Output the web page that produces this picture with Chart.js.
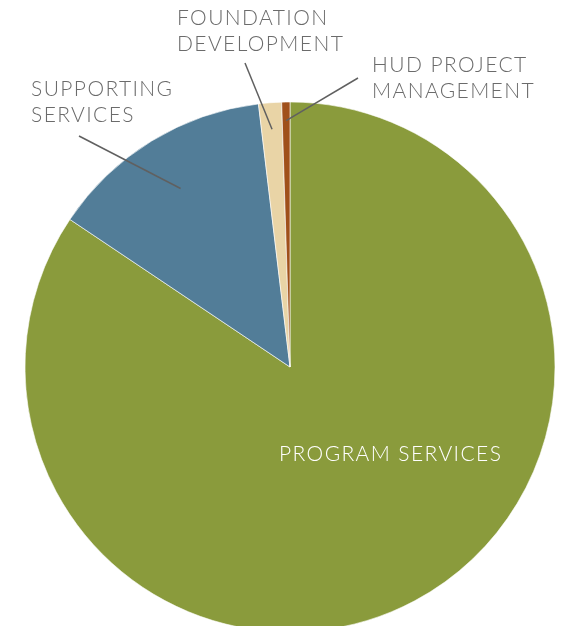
<!DOCTYPE html>
<html>
<head>
<meta charset="utf-8">
<script src="https://cdn.jsdelivr.net/npm/chart.js@4"></script>
<style>
  html, body { margin: 0; padding: 0; background: #fff; overflow: hidden; }
  #wrap { width: 562px; height: 626px; }
</style>
</head>
<body>
<div id="wrap"><canvas id="pie" width="562" height="626"></canvas></div>
<script>
// categorias e valores (%)
const categorias = ['PROGRAM SERVICES', 'SUPPORTING SERVICES', 'FOUNDATION DEVELOPMENT', 'HUD PROJECT MANAGEMENT'];
const valores = [84.4, 13.7, 1.4, 0.5];
const cores = ['#8a9b3c', '#527d98', '#e9d4a6', '#a0501a'];

// rótulos: linhas de texto, posição do texto, início da linha guia, fração do raio onde a linha termina
const rotulos = [
  { linhas: ['PROGRAM SERVICES'], x: 279, y: 461, cor: '#ffffff' },
  { linhas: ['SUPPORTING', 'SERVICES'], x: 31, y: 96, guia: [79, 136], raio: 0.79 },
  { linhas: ['FOUNDATION', 'DEVELOPMENT'], x: 177, y: 25, guia: [245, 63], raio: 0.9 },
  { linhas: ['HUD PROJECT', 'MANAGEMENT'], x: 372, y: 72, guia: [358, 78], raio: 0.93 },
];

const pluginRotulos = {
  id: 'rotulos',
  afterDatasetsDraw(chart) {
    const c = chart.ctx;
    const arcos = chart.getDatasetMeta(0).data;
    c.save();
    rotulos.forEach((r, i) => {
      if (r.guia) {
        const a = arcos[i];
        const meio = (a.startAngle + a.endAngle) / 2;
        const ex = a.x + Math.cos(meio) * a.outerRadius * r.raio;
        const ey = a.y + Math.sin(meio) * a.outerRadius * r.raio;
        c.strokeStyle = '#606060';
        c.lineWidth = 1.5;
        c.beginPath();
        c.moveTo(r.guia[0], r.guia[1]);
        c.lineTo(ex, ey);
        c.stroke();
      }
      c.fillStyle = r.cor || '#6b6b6b';
      c.font = '300 21px Lato';
      c.letterSpacing = '1.4px';
      c.textBaseline = 'alphabetic';
      r.linhas.forEach((t, k) => c.fillText(t, r.x, r.y + k * 26));
    });
    c.restore();
  }
};

const ctx = document.getElementById('pie').getContext('2d');
const grafico = new Chart(ctx, {
  type: 'pie',
  data: {
    labels: categorias,
    datasets: [{
      data: valores,
      backgroundColor: cores,
      borderColor: '#ffffff',
      borderWidth: 0.6,
    }],
  },
  options: {
    responsive: false,
    animation: false,
    radius: 265,
    layout: { padding: { left: 18, right: 0, top: 108, bottom: 0 } },
    plugins: {
      legend: { display: false },
      tooltip: { enabled: false },
    },
  },
  plugins: [pluginRotulos],
});
</script>
</body>
</html>
